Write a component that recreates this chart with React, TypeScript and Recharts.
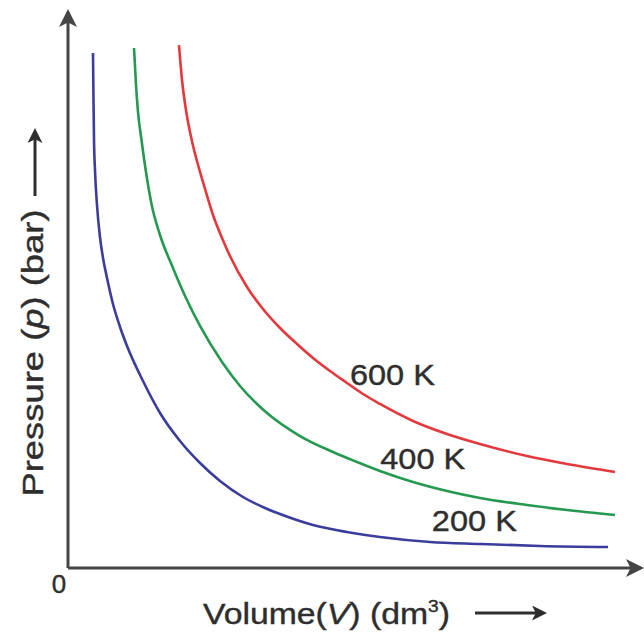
import React from 'react';
import { LineChart, Line, XAxis, YAxis, ReferenceDot } from 'recharts';

const W = 644;
const H = 632;

const FONT = '"Liberation Sans", Arial, sans-serif';
const TEXT_COLOR = '#2e2e2e';
const AXIS_COLOR = '#454545';

const COLORS = {
  k200: '#3b3d9c',
  k400: '#25994f',
  k600: '#e5383d',
};

// volume (dm3) / pressure (bar)
const v200 = [0.436, 0.445, 0.454, 0.471, 0.506, 0.558, 0.611, 0.681, 0.785, 0.908, 1.03, 1.309, 1.606, 1.955, 2.304, 2.653, 3.054, 3.438, 3.7, 4.276, 4.869, 5.445, 6.318, 7.19, 8.237, 9.424];
const p200 = [9.263, 8.417, 7.698, 7.158, 6.529, 5.953, 5.576, 5.216, 4.748, 4.335, 3.993, 3.363, 2.788, 2.284, 1.888, 1.565, 1.277, 1.079, 0.971, 0.773, 0.647, 0.558, 0.468, 0.432, 0.396, 0.378];

const v400 = [1.152, 1.187, 1.222, 1.283, 1.361, 1.461, 1.606, 1.832, 2.059, 2.304, 2.688, 3.002, 3.473, 4.049, 4.625, 5.044, 5.445, 6.021, 6.614, 7.19, 8.01, 8.709, 9.546];
const p400 = [9.353, 8.687, 8.201, 7.698, 7.122, 6.529, 5.989, 5.396, 4.856, 4.353, 3.705, 3.273, 2.788, 2.374, 2.086, 1.906, 1.745, 1.547, 1.385, 1.259, 1.133, 1.043, 0.953];

const v600 = [1.937, 1.99, 2.059, 2.159, 2.251, 2.356, 2.531, 2.688, 2.827, 3.124, 3.403, 3.7, 3.997, 4.276, 4.572, 4.869, 5.148, 5.445, 6.021, 6.614, 7.19, 8.01, 8.709, 9.546];
const p600 = [9.406, 8.777, 8.237, 7.698, 7.32, 6.942, 6.349, 5.935, 5.612, 5.054, 4.658, 4.317, 4.029, 3.777, 3.543, 3.327, 3.129, 2.95, 2.644, 2.41, 2.23, 2.014, 1.871, 1.727];

const curveLabels = ['600 K', '400 K', '200 K'];
const labelV = [4.92, 5.45, 6.35];
const labelP = [3.29, 1.78, 0.67];

const toRows = (v: number[], p: number[]) => v.map((x, i) => ({ v: x, p: p[i] }));

const data200 = toRows(v200, p200);
const data400 = toRows(v400, p400);
const data600 = toRows(v600, p600);

const textProps = {
  fontFamily: FONT,
  fill: TEXT_COLOR,
  stroke: TEXT_COLOR,
  strokeWidth: 0.4,
};

const CurveLabel = (text: string) => (props: any) => {
  const vb = props.viewBox || {};
  return (
    <text x={vb.x} y={vb.y} fontSize={30} {...textProps} textLength={85} lengthAdjust="spacingAndGlyphs">
      {text}
    </text>
  );
};

const ZeroTick = (props: any) => (
  <text x={props.x - 9} y={props.y + 23} textAnchor="middle" fontSize={26} {...textProps}>
    {props.payload.value}
  </text>
);

const XLabel = () => (
  <g>
    <text x={203} y={624} fontSize={30} {...textProps} textLength={247} lengthAdjust="spacingAndGlyphs">
      Volume(<tspan fontStyle="italic">V</tspan>) (dm<tspan fontSize={17} dy={-12}>3</tspan><tspan dy={12}>)</tspan>
    </text>
    <line x1={475} y1={613} x2={537} y2={613} stroke={TEXT_COLOR} strokeWidth={3} markerEnd="url(#labelArrow)" />
  </g>
);

const YLabel = () => (
  <g>
    <text transform="translate(43,353) rotate(-90)" textAnchor="middle" fontSize={30} {...textProps}
      textLength={287} lengthAdjust="spacingAndGlyphs">
      Pressure (<tspan fontStyle="italic">p</tspan>) (bar)
    </text>
    <line x1={35} y1={196} x2={35} y2={138} stroke={TEXT_COLOR} strokeWidth={3} markerEnd="url(#labelArrow)" />
  </g>
);

export default function App() {
  return (
    <div style={{ position: 'relative', width: W, height: H, background: '#fff' }}>
      <style>{'body{margin:0;background:#fff}'}</style>
      <svg width={0} height={0} style={{ position: 'absolute' }}>
        <defs>
          <marker id="axisArrow" viewBox="0 0 12 12" refX={10} refY={6} markerWidth={6} markerHeight={6}
            markerUnits="strokeWidth" orient="auto-start-reverse">
            <path d="M0,0 L12,6 L0,12 L3,6 z" fill={AXIS_COLOR} />
          </marker>
          <marker id="labelArrow" viewBox="0 0 12 12" refX={4} refY={6} markerWidth={5} markerHeight={5}
            markerUnits="strokeWidth" orient="auto">
            <path d="M0,0 L12,6 L0,12 L3,6 z" fill={TEXT_COLOR} />
          </marker>
        </defs>
      </svg>
      <LineChart width={W} height={H} margin={{ top: 12, right: 3, left: 0, bottom: 0 }}>
        <XAxis dataKey="v" type="number" domain={[0, 10]} ticks={[0]} allowDataOverflow
          height={64} tickLine={false} tickSize={0} tick={<ZeroTick />}
          axisLine={{ stroke: AXIS_COLOR, strokeWidth: 3, markerEnd: 'url(#axisArrow)' }}
          label={<XLabel />} />
        <YAxis type="number" domain={[0, 10]} allowDataOverflow width={68} tick={false} tickLine={false}
          axisLine={{ stroke: AXIS_COLOR, strokeWidth: 3, markerStart: 'url(#axisArrow)' }}
          label={<YLabel />} />
        <Line data={data200} dataKey="p" type="monotone" stroke={COLORS.k200} strokeWidth={2.6} dot={false} isAnimationActive={false} />
        <Line data={data400} dataKey="p" type="monotone" stroke={COLORS.k400} strokeWidth={2.6} dot={false} isAnimationActive={false} />
        <Line data={data600} dataKey="p" type="monotone" stroke={COLORS.k600} strokeWidth={2.6} dot={false} isAnimationActive={false} />
        {curveLabels.map((t, i) => (
          <ReferenceDot key={t} x={labelV[i]} y={labelP[i]} r={0} stroke="none" fill="none"
            label={CurveLabel(t)} />
        ))}
      </LineChart>
    </div>
  );
}
